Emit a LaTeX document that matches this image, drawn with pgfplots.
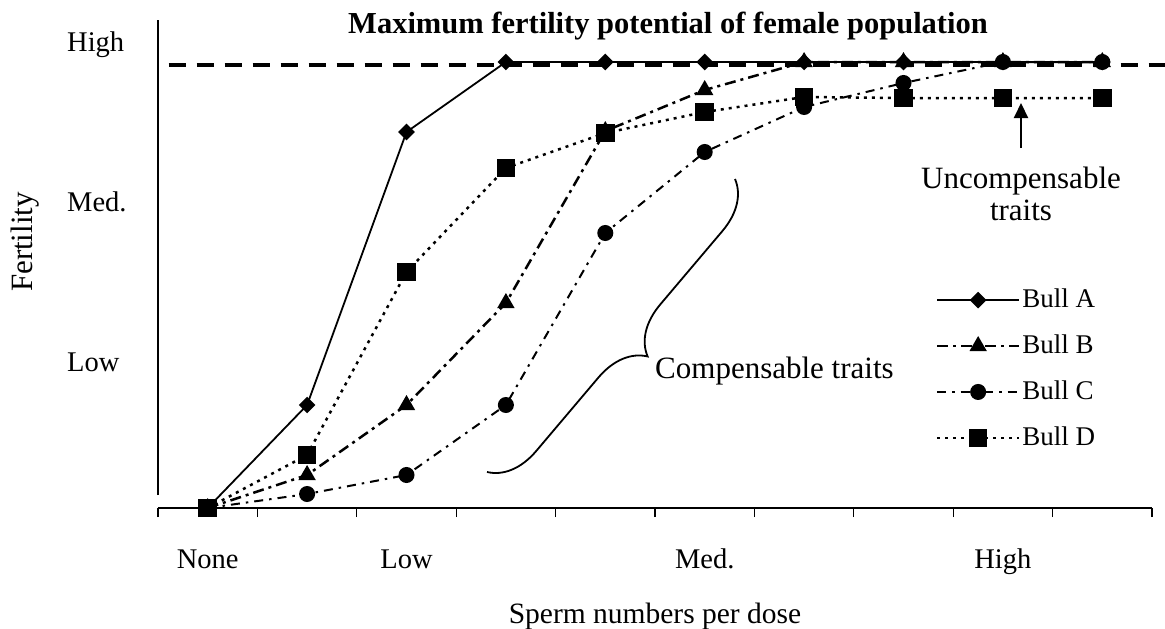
\documentclass[border=0pt]{standalone}
\usepackage{fontspec}
\setmainfont{Liberation Serif}
\usepackage{pgfplots}
\usepackage{pgfplotstable}
\pgfplotsset{compat=1.18}
\usetikzlibrary{decorations.pathreplacing,arrows.meta}

\pgfplotstableread{
x  A    B    C    D
1  0    0    0    0
2  103  33   14   53
3  376  103  33   236
4  446  205  103  340
5  446  377  275  375
6  446  418  356  396
7  446  446  401  411
8  446  446  425  410
9  446  446  446  410
10 446  446  446  410
}\bulls

\begin{document}
\fontsize{28pt}{32pt}\selectfont
\begin{tikzpicture}
\begin{axis}[
  at={(158pt,-508pt)}, anchor=south west,
  scale only axis, width=994pt, height=488pt,
  xmin=0.5, xmax=10.5, ymin=0, ymax=488,
  clip=false,
  axis x line=bottom, axis y line=left,
  axis line style={-, line width=1.3pt},
  y axis line style={shorten <=13pt},
  xtick={0.5,1.5,...,10.5}, xticklabels={},
  tick align=outside, major tick length=9pt,
  xtick style={line width=1.3pt, black},
  tick label style={font=\fontsize{28.5pt}{33pt}\selectfont},
  extra x ticks={1,3,6,9},
  extra x tick labels={None,Low,Med.,High},
  extra x tick style={major tick length=0pt, xticklabel style={anchor=base, yshift=-60pt}},
  ytick={146,306,463}, yticklabels={Low,Med.,High},
  ytick style={draw=none},
  yticklabel style={anchor=west, xshift=-82pt, inner sep=0pt},
  xlabel={Sperm numbers per dose},
  xlabel style={at={(axis description cs:0.5,0)}, anchor=base, yshift=-115pt, font=\fontsize{29.5pt}{34pt}\selectfont},
  ylabel={Fertility},
  ylabel style={at={(axis description cs:-0.1338,0.545)}, anchor=center, font=\fontsize{31pt}{36pt}\selectfont},
  legend style={draw=none, fill=none, inner sep=0pt, at={(axis cs:8.324,139)}, anchor=west,
    row sep=19pt, nodes={inner sep=2pt}, font=\fontsize{27pt}{31pt}\selectfont,
    /tikz/every even column/.append style={column sep=6pt}},
  legend cell align=left,
  legend image code/.code={\draw[mark repeat=2,mark phase=2,#1] plot coordinates {(0pt,0pt) (41pt,0pt) (82pt,0pt)};},
]
\addplot[forget plot, black, line width=4.5pt, dash pattern=on 17pt off 11pt] coordinates {(0.608,443) (10.63,443)};
\addplot[black, line width=1.8pt, mark=square*, mark size=5pt, mark options={rotate=45, solid}] table[x=x, y=A] {\bulls};
\addlegendentry{Bull A}
\addplot[black, line width=2.5pt, dash pattern=on 11pt off 5pt on 3pt off 5pt, mark=triangle*, mark size=7.5pt, mark options={solid}] table[x=x, y=B] {\bulls};
\addlegendentry{Bull B}
\addplot[black, line width=2pt, dash pattern=on 9pt off 6pt on 2.5pt off 6pt, mark=*, mark size=7pt, mark options={solid}] table[x=x, y=C] {\bulls};
\addlegendentry{Bull C}
\addplot[black, line width=2.5pt, dash pattern=on 3pt off 5pt, mark=square*, mark size=8pt, mark options={solid}] table[x=x, y=D] {\bulls};
\addlegendentry{Bull D}
\end{axis}
\node[font=\fontsize{30.5pt}{36pt}\selectfont\bfseries, anchor=base] at (668pt,-33pt) {Maximum fertility potential of female population};
\draw[line width=1.8pt, decorate, decoration={brace, amplitude=48pt}] (735pt,-179pt) -- (487pt,-472pt);
\begin{scope}[font=\fontsize{31pt}{36pt}\selectfont]
\node[anchor=base west, inner sep=0pt] at (655pt,-378pt) {Compensable traits};
\draw[line width=2pt, -{Triangle[length=15pt,width=14pt]}] (1021pt,-148pt) -- (1021pt,-103pt);
\node[anchor=base, inner sep=0pt] at (1021pt,-188pt) {Uncompensable};
\node[anchor=base, inner sep=0pt] at (1021pt,-220pt) {traits};
\end{scope}
\pgfresetboundingbox
\useasboundingbox (0pt,0pt) rectangle (1165pt,-629pt);
\end{tikzpicture}
\end{document}
